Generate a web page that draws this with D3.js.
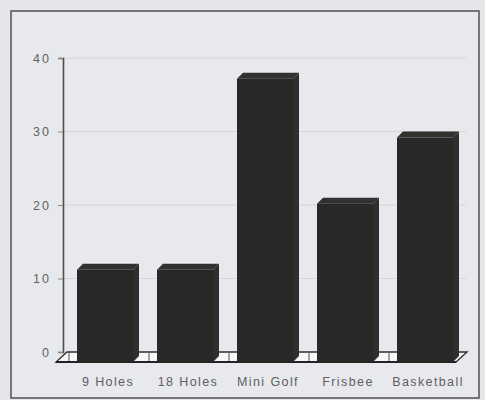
<!DOCTYPE html>
<html>
<head>
<meta charset="utf-8">
<script src="https://cdn.jsdelivr.net/npm/d3@7"></script>
<style>
  html, body { margin: 0; padding: 0; background: #e5e6ea; }
  svg { display: block; }
  text { font-family: "Liberation Sans", Arial, sans-serif; }
</style>
</head>
<body>
<svg id="chart" width="485" height="400"></svg>
<script>
const categories = ["9 Holes", "18 Holes", "Mini Golf", "Frisbee", "Basketball"];
const values = [12, 12, 38, 21, 30];
const yTicks = [0, 10, 20, 30, 40];

const W = 485, H = 400;
const svg = d3.select("#chart");

// background + frame
svg.append("rect").attr("x", 0).attr("y", 0).attr("width", W).attr("height", H).attr("fill", "#e5e6ea");
svg.append("rect").attr("x", 11).attr("y", 11).attr("width", 468).attr("height", 387)
  .attr("fill", "#e8e9ec").attr("stroke", "#5a5a5c").attr("stroke-width", 1.6);

const y = d3.scaleLinear().domain([0, 40]).range([352, 58]);
const x = d3.scaleBand().domain(categories).range([67, 467]).paddingInner(0).paddingOuter(0);

const depthX = 11, depthY = 10; // floor depth (front is offset left/down)

// gridlines
svg.append("g").selectAll("line").data(yTicks.filter(d => d > 0)).join("line")
  .attr("x1", 63).attr("x2", 466)
  .attr("y1", d => y(d)).attr("y2", d => y(d))
  .attr("stroke", "#d3d5d9").attr("stroke-width", 1.2);

// y axis
const yAxis = d3.axisLeft(y).tickValues(yTicks).tickSize(5).tickPadding(7).tickFormat(d3.format("d"));
const gy = svg.append("g").attr("transform", "translate(63,0)").call(yAxis);
gy.select(".domain").attr("stroke", "#4e4e50").attr("stroke-width", 1.6);
gy.selectAll(".tick line").attr("stroke", "#8a8a8c");
gy.selectAll(".tick text").attr("fill", "#626264").style("font-size", "12.5px").style("letter-spacing", "2px")
  .attr("dy", "0.35em");

// floor
const x0 = x.range()[0], x1 = x.range()[1];
const yb = y(0);
svg.append("path")
  .attr("d", `M${x0},${yb} L${x1},${yb} L${x1 - depthX},${yb + depthY} L${x0 - depthX},${yb + depthY} Z`)
  .attr("fill", "#f7f7f7").attr("stroke", "#2e2c2c").attr("stroke-width", 1.3);
svg.append("line").attr("x1", x0 - depthX).attr("x2", x1 - depthX).attr("y1", yb + depthY).attr("y2", yb + depthY)
  .attr("stroke", "#222").attr("stroke-width", 2.2);
// floor tick marks at band boundaries
svg.append("g").selectAll("line").data(categories).join("line")
  .attr("x1", d => x(d) + 2).attr("x2", d => x(d) + 2)
  .attr("y1", yb + 1).attr("y2", yb + depthY - 1)
  .attr("stroke", "#555").attr("stroke-width", 1);

// bars
const fw = 56, bd = 6;
const bars = svg.append("g").selectAll("g").data(categories.map((c, i) => ({ c, v: values[i] }))).join("g");
bars.each(function (d) {
  const g = d3.select(this);
  const left = x(d.c) + 10;
  const right = left + fw;
  const top = y(d.v) + bd;       // front-face top
  const bottom = yb + depthY;    // front-face bottom
  // right side
  g.append("path").attr("d", `M${right},${top} L${right + bd},${top - bd} L${right + bd},${bottom - bd} L${right},${bottom} Z`)
    .attr("fill", "#302d2d");
  // top
  g.append("path").attr("d", `M${left},${top} L${left + bd},${top - bd} L${right + bd},${top - bd} L${right},${top} Z`)
    .attr("fill", "#333030");
  // front
  g.append("rect").attr("x", left).attr("y", top).attr("width", fw).attr("height", bottom - top)
    .attr("fill", "#2a2727");
});

// category labels
svg.append("g").selectAll("text").data(categories).join("text")
  .attr("x", d => x(d) + x.bandwidth() / 2 + 1)
  .attr("y", 386)
  .attr("text-anchor", "middle")
  .attr("fill", "#5e5e60")
  .style("font-size", "12.5px")
  .style("letter-spacing", "1.4px")
  .text(d => d);
</script>
</body>
</html>
